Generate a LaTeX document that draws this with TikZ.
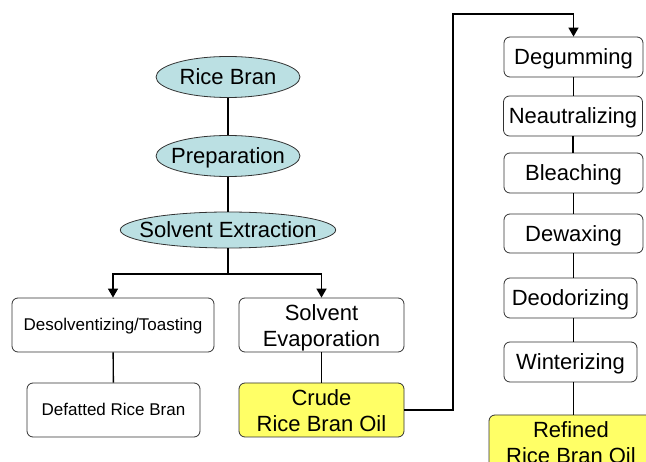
\documentclass[tikz,border=0pt]{standalone}
\usepackage{fontspec}
\setmainfont{Liberation Sans}
\usetikzlibrary{arrows.meta,shapes.geometric}
\definecolor{ellfill}{RGB}{187,224,227}
\definecolor{oilfill}{RGB}{255,255,102}
\definecolor{edge}{RGB}{50,50,50}
\tikzset{
  ell/.style={ellipse,draw=edge,line width=0.8pt,fill=ellfill,inner sep=0pt,font=\fontsize{22}{26}\selectfont,text height=20pt,text depth=4.6pt},
  stepbox/.style={rectangle,rounded corners=6pt,draw=edge,line width=0.8pt,fill=white,inner sep=0pt,align=center,font=\fontsize{22}{26}\selectfont},
  onel/.style={text height=20pt,text depth=4.6pt},
  twol/.style={text height=47pt,text depth=4.6pt},
  smallbox/.style={stepbox,font=\fontsize{17}{20}\selectfont,text height=15.4pt,text depth=3.6pt},
  oilbox/.style={stepbox,fill=oilfill},
  conn/.style={line width=1.4pt,black},
  arr/.style={conn,-{Triangle[length=9pt,width=10pt]}}
}
\begin{document}
\begin{tikzpicture}[x=1pt,y=-1pt]
\useasboundingbox (0,0) rectangle (646,462);
\clip (0,0) rectangle (646,462);
% left column
\node[ell,minimum width=144pt,minimum height=41pt] (rb) at (228,77) {Rice Bran};
\node[ell,inner xsep=-6pt,minimum width=144pt,minimum height=41pt] (prep) at (228,156) {Preparation};
\node[ell,inner xsep=-12.5pt,minimum width=215pt,minimum height=36pt] (se) at (228,230) {Solvent Extraction};
\node[smallbox,minimum width=202pt,minimum height=54pt] (desolv) at (113,325) {Desolventizing/Toasting};
\node[stepbox,twol,minimum width=165pt,minimum height=54pt] (sevap) at (321.5,325) {Solvent\\Evaporation};
\node[smallbox,minimum width=173pt,minimum height=54pt] (defat) at (113.5,410) {Defatted Rice Bran};
\node[oilbox,twol,minimum width=165pt,minimum height=54pt] (crude) at (321.5,410) {Crude\\Rice Bran Oil};
% right column
\node[stepbox,onel,minimum width=139pt,minimum height=40pt] (degum) at (573.5,57) {Degumming};
\node[stepbox,onel,minimum width=139pt,minimum height=40pt] (neut) at (573,116) {Neautralizing};
\node[stepbox,onel,minimum width=139pt,minimum height=40pt] (bleach) at (573.5,173) {Bleaching};
\node[stepbox,onel,minimum width=139pt,minimum height=39pt] (dewax) at (573.5,233.5) {Dewaxing};
\node[stepbox,onel,minimum width=133pt,minimum height=40pt] (deodor) at (570.5,298) {Deodorizing};
\node[stepbox,onel,minimum width=133pt,minimum height=40pt] (winter) at (570.5,362) {Winterizing};
\node[oilbox,twol,minimum width=164pt,minimum height=55pt] (refined) at (571,442.5) {Refined\\Rice Bran Oil};
% connectors
\coordinate (j) at (228,274);
\coordinate (top) at (453,14);
\draw[conn] (rb) -- (prep);
\draw[conn] (prep) -- (se);
\draw[conn] (se) -- (j);
\draw[arr] (j) -| (desolv.north);
\draw[arr] (j) -| (sevap.north);
\draw[conn] (desolv) -- (defat);
\draw[conn] (sevap) -- (crude);
\draw[arr] (crude.east) -| (top) -| (degum.north);
\draw[conn] (degum.south) -- (degum.south |- neut.north);
\draw[conn] (neut.south) -- (neut.south |- bleach.north);
\draw[conn] (bleach.south) -- (bleach.south |- dewax.north);
\draw[conn] (dewax.south) -- (dewax.south |- deodor.north);
\draw[conn] (dewax.south |- deodor.south) -- (dewax.south |- winter.north);
\draw[conn] (dewax.south |- winter.south) -- (dewax.south |- refined.north);
\end{tikzpicture}
\end{document}
